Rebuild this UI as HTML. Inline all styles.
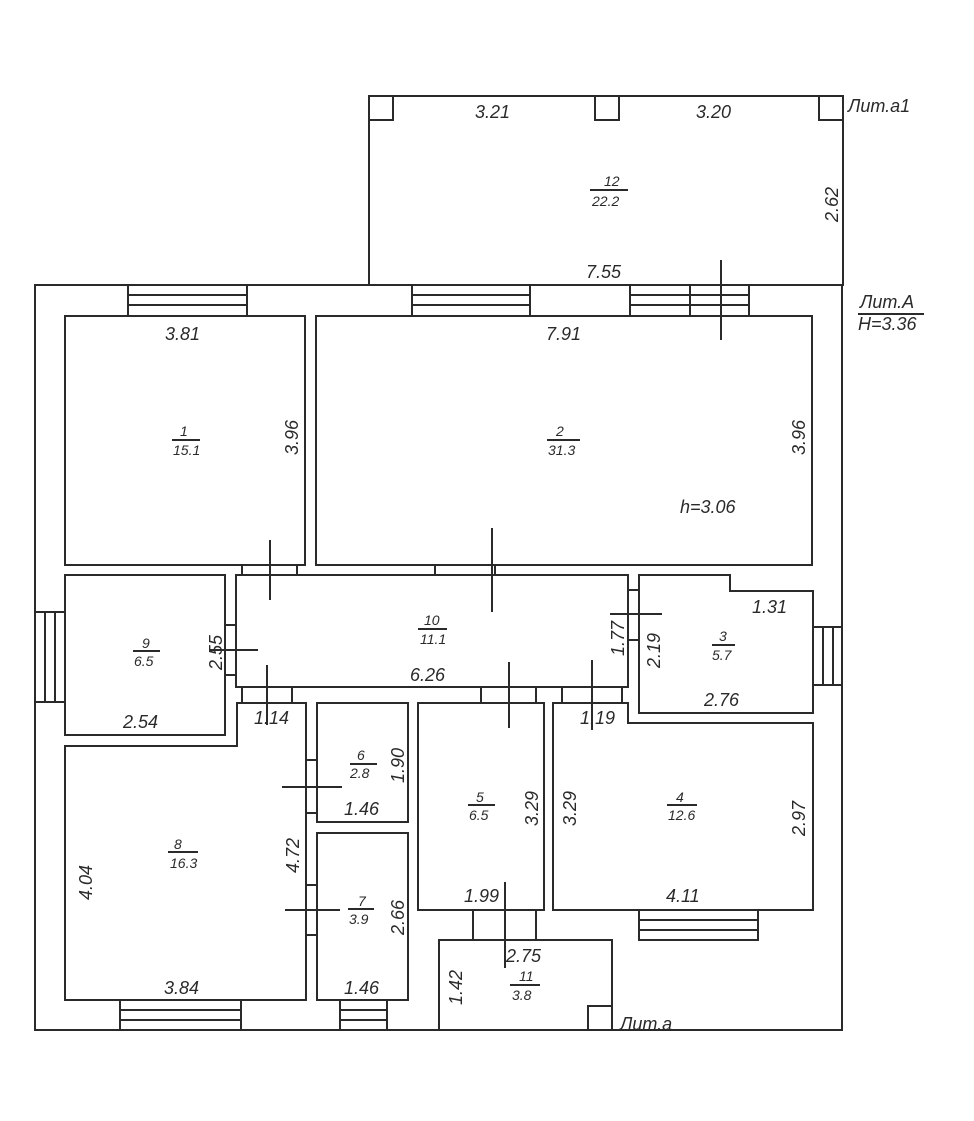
<!DOCTYPE html>
<html><head><meta charset="utf-8"><style>
html,body{margin:0;padding:0;background:#fff;}
svg{display:block}
text{font-family:"Liberation Sans","DejaVu Sans",sans-serif;font-style:italic;fill:#2a2a2a;font-size:18px;}
.s{font-size:14px}
</style></head><body>
<svg width="974" height="1121" viewBox="0 0 974 1121" xmlns="http://www.w3.org/2000/svg">
<g fill="none" stroke="#2a2a2a" stroke-width="2">
<!-- Lit a1 -->
<rect x="369" y="96" width="474" height="189"/>
<rect x="369" y="96" width="24" height="24"/>
<rect x="595" y="96" width="24" height="24"/>
<rect x="819" y="96" width="24" height="24"/>
<!-- outer -->
<rect x="35" y="285" width="807" height="745"/>
<!-- rooms -->
<rect x="65" y="316" width="240" height="249"/>
<rect x="316" y="316" width="496" height="249"/>
<rect x="65" y="575" width="160" height="160"/>
<rect x="236" y="575" width="392" height="112"/>
<polygon points="639,575 730,575 730,591 813,591 813,713 639,713"/>
<polygon points="553,703 628,703 628,723 813,723 813,910 553,910"/>
<rect x="418" y="703" width="126" height="207"/>
<rect x="317" y="703" width="91" height="119"/>
<rect x="317" y="833" width="91" height="167"/>
<polygon points="65,746 237,746 237,703 306,703 306,1000 65,1000"/>
<rect x="439" y="940" width="173" height="90"/>
<rect x="588" y="1006" width="24" height="24"/>
<!-- windows top -->
<rect x="128" y="285" width="119" height="31"/>
<line x1="128" y1="295" x2="247" y2="295"/><line x1="128" y1="305" x2="247" y2="305"/>
<rect x="412" y="285" width="118" height="31"/>
<line x1="412" y1="295" x2="530" y2="295"/><line x1="412" y1="305" x2="530" y2="305"/>
<rect x="630" y="285" width="119" height="31"/>
<line x1="630" y1="295" x2="749" y2="295"/><line x1="630" y1="305" x2="749" y2="305"/>
<line x1="690" y1="285" x2="690" y2="316"/>
<line x1="721" y1="260" x2="721" y2="340"/>
<!-- left window -->
<rect x="35" y="612" width="30" height="90"/>
<line x1="45" y1="612" x2="45" y2="702"/><line x1="55" y1="612" x2="55" y2="702"/>
<!-- right window -->
<rect x="813" y="627" width="29" height="58"/>
<line x1="823" y1="627" x2="823" y2="685"/><line x1="833" y1="627" x2="833" y2="685"/>
<!-- bottom windows -->
<rect x="120" y="1000" width="121" height="30"/>
<line x1="120" y1="1010" x2="241" y2="1010"/><line x1="120" y1="1020" x2="241" y2="1020"/>
<rect x="340" y="1000" width="47" height="30"/>
<line x1="340" y1="1010" x2="387" y2="1010"/><line x1="340" y1="1020" x2="387" y2="1020"/>
<rect x="639" y="910" width="119" height="30"/>
<line x1="639" y1="920" x2="758" y2="920"/><line x1="639" y1="930" x2="758" y2="930"/>
<!-- doors -->
<rect x="242" y="565" width="55" height="10"/>
<line x1="270" y1="540" x2="270" y2="600"/>
<rect x="435" y="565" width="60" height="10"/>
<line x1="492" y1="528" x2="492" y2="612"/>
<rect x="225" y="625" width="11" height="50"/>
<line x1="210" y1="650" x2="258" y2="650"/>
<rect x="628" y="590" width="11" height="50"/>
<line x1="610" y1="614" x2="662" y2="614"/>
<rect x="242" y="687" width="50" height="16"/>
<line x1="267" y1="665" x2="267" y2="725"/>
<rect x="481" y="687" width="55" height="16"/>
<line x1="509" y1="662" x2="509" y2="728"/>
<rect x="562" y="687" width="60" height="16"/>
<line x1="592" y1="660" x2="592" y2="730"/>
<rect x="306" y="760" width="11" height="53"/>
<line x1="282" y1="787" x2="342" y2="787"/>
<rect x="306" y="885" width="11" height="50"/>
<line x1="285" y1="910" x2="340" y2="910"/>
<rect x="473" y="910" width="63" height="30"/>
<line x1="505" y1="882" x2="505" y2="968"/>
<!-- fraction lines -->
<line x1="590" y1="190" x2="628" y2="190"/>
<line x1="172" y1="440" x2="200" y2="440"/>
<line x1="547" y1="440" x2="580" y2="440"/>
<line x1="133" y1="651" x2="160" y2="651"/>
<line x1="418" y1="629" x2="447" y2="629"/>
<line x1="712" y1="645" x2="735" y2="645"/>
<line x1="468" y1="805" x2="495" y2="805"/>
<line x1="667" y1="805" x2="697" y2="805"/>
<line x1="350" y1="764" x2="377" y2="764"/>
<line x1="348" y1="909" x2="374" y2="909"/>
<line x1="168" y1="852" x2="198" y2="852"/>
<line x1="510" y1="985" x2="540" y2="985"/>
<line x1="858" y1="314" x2="924" y2="314"/>
</g>
<g>
<text x="475" y="118">3.21</text>
<text x="696" y="118">3.20</text>
<text x="604" y="186" class="s">12</text>
<text x="592" y="206" class="s">22.2</text>
<text x="586" y="278">7.55</text>
<text x="848" y="112">Лит.a1</text>
<text x="860" y="308">Лит.A</text>
<text x="858" y="330">H=3.36</text>
<text x="165" y="340">3.81</text>
<text x="546" y="340">7.91</text>
<text x="180" y="436" class="s">1</text>
<text x="173" y="455" class="s">15.1</text>
<text x="556" y="436" class="s">2</text>
<text x="548" y="455" class="s">31.3</text>
<text x="680" y="513">h=3.06</text>
<text x="142" y="648" class="s">9</text>
<text x="134" y="666" class="s">6.5</text>
<text x="123" y="728">2.54</text>
<text x="424" y="625" class="s">10</text>
<text x="420" y="644" class="s">11.1</text>
<text x="410" y="681">6.26</text>
<text x="719" y="641" class="s">3</text>
<text x="712" y="660" class="s">5.7</text>
<text x="752" y="613">1.31</text>
<text x="704" y="706">2.76</text>
<text x="254" y="724">1.14</text>
<text x="580" y="724">1.19</text>
<text x="357" y="760" class="s">6</text>
<text x="350" y="778" class="s">2.8</text>
<text x="344" y="815">1.46</text>
<text x="358" y="906" class="s">7</text>
<text x="349" y="924" class="s">3.9</text>
<text x="344" y="994">1.46</text>
<text x="476" y="802" class="s">5</text>
<text x="469" y="820" class="s">6.5</text>
<text x="464" y="902">1.99</text>
<text x="676" y="802" class="s">4</text>
<text x="668" y="820" class="s">12.6</text>
<text x="666" y="902">4.11</text>
<text x="174" y="849" class="s">8</text>
<text x="170" y="868" class="s">16.3</text>
<text x="164" y="994">3.84</text>
<text x="506" y="962">2.75</text>
<text x="519" y="981" class="s">11</text>
<text x="512" y="1000" class="s">3.8</text>
<text x="620" y="1030">Лит.a</text>
<text transform="translate(298,455) rotate(-90)">3.96</text>
<text transform="translate(805,455) rotate(-90)">3.96</text>
<text transform="translate(838,222) rotate(-90)">2.62</text>
<text transform="translate(222,670) rotate(-90)">2.55</text>
<text transform="translate(624,656) rotate(-90)">1.77</text>
<text transform="translate(660,668) rotate(-90)">2.19</text>
<text transform="translate(404,783) rotate(-90)">1.90</text>
<text transform="translate(299,873) rotate(-90)">4.72</text>
<text transform="translate(404,935) rotate(-90)">2.66</text>
<text transform="translate(538,826) rotate(-90)">3.29</text>
<text transform="translate(576,826) rotate(-90)">3.29</text>
<text transform="translate(805,836) rotate(-90)">2.97</text>
<text transform="translate(92,900) rotate(-90)">4.04</text>
<text transform="translate(462,1005) rotate(-90)">1.42</text>
</g>
</svg>
</body></html>
